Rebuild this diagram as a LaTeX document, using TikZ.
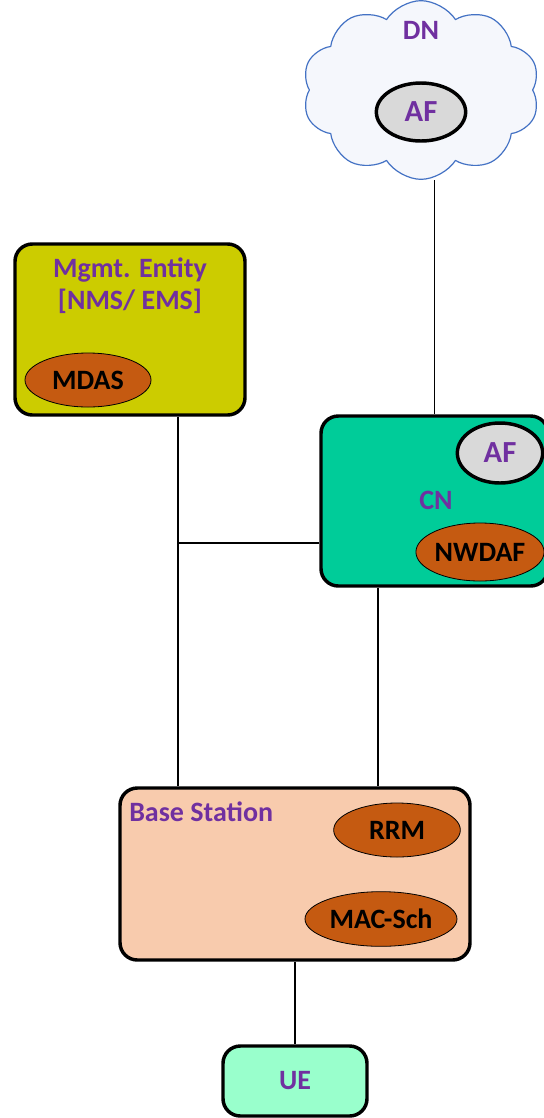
\documentclass[tikz,border=0pt]{standalone}
\usepackage{fontspec}
\setmainfont{Carlito}
\usetikzlibrary{shapes.geometric,shapes.symbols,positioning}
\definecolor{mgmtfill}{HTML}{CCCC00}
\definecolor{cnfill}{HTML}{00CC99}
\definecolor{bsfill}{HTML}{F8CBAD}
\definecolor{uefill}{HTML}{99FFCC}
\definecolor{fnfill}{HTML}{C55A11}
\definecolor{affill}{HTML}{D9D9D9}
\definecolor{lblcol}{HTML}{7030A0}
\definecolor{cloudcol}{HTML}{4472C4}
\definecolor{cloudbg}{HTML}{F5F7FC}
\tikzset{
  box/.style={draw, line width=2.6pt, rounded corners=13pt},
  func/.style={ellipse, draw, line width=0.6pt, fill=fnfill, inner sep=0pt, font=\fontsize{21}{25}\selectfont\bfseries},
  afnode/.style={ellipse, draw, line width=2.6pt, fill=affill, inner sep=0pt, text=lblcol, font=\fontsize{23}{27}\selectfont\bfseries},
  lbl/.style={text=lblcol, font=\fontsize{21}{24}\selectfont\bfseries, inner sep=0pt},
  link/.style={line width=1pt}
}
\begin{document}
\begin{tikzpicture}[x=0.75pt, y=-0.75pt, line join=round]
\useasboundingbox[fill=white] (0,0) rectangle (543,1118);
% DN
\node[cloud, cloud puffs=10, cloud puff arc=115, draw=cloudcol, line width=0.9pt, fill=cloudbg,
  minimum width=178pt, minimum height=134pt] (dn) at (421,90) {};
\node[lbl] (dnlbl) at (421,30) {DN};
\node[afnode, minimum width=67pt, minimum height=43.5pt] (af1) at (421,112) {AF};
% boxes
\node[box, fill=mgmtfill, minimum width=172.5pt, minimum height=128.25pt] (mgmt) at (130,329.5) {};
\node[lbl, align=center] (mgmtlbl) at (130,286) {Mgmt. Entity\\{}[NMS/ EMS]};
\node[func, minimum width=94.5pt, minimum height=40.5pt] (mdas) at (88,380) {MDAS};

\node[box, fill=cnfill, minimum width=170.25pt, minimum height=127.5pt] (cn) at (434.5,501) {};
\node[lbl] (cnlbl) at (436,500) {CN};
\node[afnode, minimum width=64pt, minimum height=45pt] (af2) at (500,453) {AF};
\node[func, minimum width=94pt, minimum height=43.5pt] (nwdaf) at (480,552) {NWDAF};

\node[box, fill=bsfill, minimum width=262.5pt, minimum height=129pt] (bs) at (295,874) {};
\node[lbl, anchor=west] (bslbl) at (129,812) {Base Station};
\node[func, minimum width=95pt, minimum height=40.5pt] (rrm) at (397,830) {RRM};
\node[func, minimum width=114pt, minimum height=41pt] (macsch) at (381,919) {MAC-Sch};

\node[box, fill=uefill, minimum width=108pt, minimum height=52.5pt, lbl, text=lblcol] (ue) at (295,1081) {UE};
% links
\coordinate (j) at (178,543);
\coordinate (k) at (378,700);
\draw[link] (cn.north) -- (cn.north |- dn.south);
\draw[link] (mgmt.south -| j) -- (bs.north -| j);
\draw[link] (j) -- (j -| cn.west);
\draw[link] (cn.south -| k) -- (bs.north -| k);
\draw[link] (bs.south) -- (ue.north);
\end{tikzpicture}
\end{document}
